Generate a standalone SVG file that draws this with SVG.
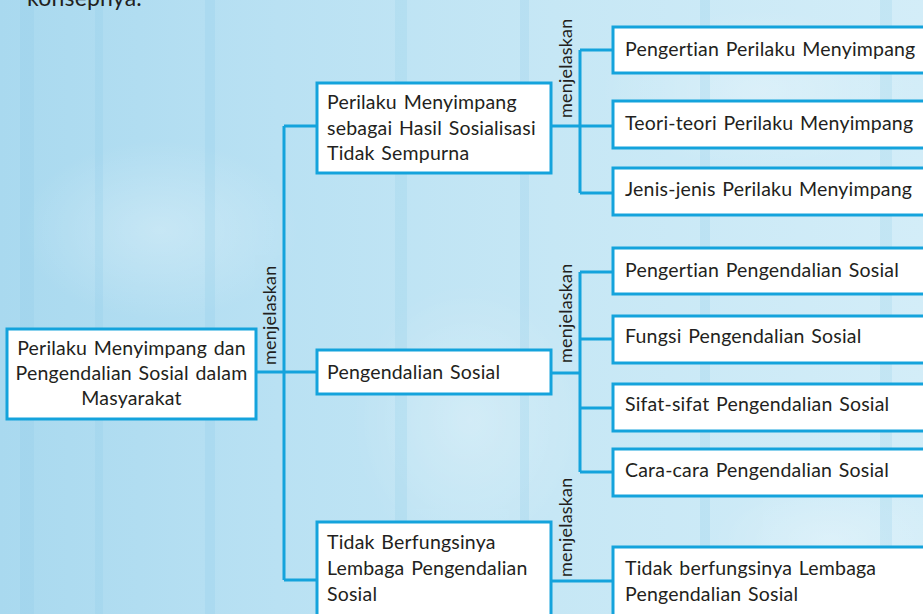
<svg xmlns="http://www.w3.org/2000/svg" width="923" height="614" viewBox="0 0 923 614">
<defs>
<linearGradient id="bg" x1="0" y1="0" x2="1" y2="0">
<stop offset="0" stop-color="#a9d9ef"/>
<stop offset="0.3" stop-color="#b9e1f3"/>
<stop offset="0.6" stop-color="#c6e7f5"/>
<stop offset="1" stop-color="#d3edf8"/>
</linearGradient>
<radialGradient id="rg" cx="0.5" cy="0.5" r="0.5">
<stop offset="0" stop-color="#ffffff" stop-opacity="0.45"/>
<stop offset="1" stop-color="#ffffff" stop-opacity="0"/>
</radialGradient>
<style>
.box{fill:#ffffff;stroke:#14a3dc;stroke-width:3}
.ln{fill:none;stroke:#14a3dc;stroke-width:3}
.t{font-family:Lato,"Open Sans","Liberation Sans",sans-serif;font-size:19.5px;fill:#231f20;letter-spacing:0.2px;word-spacing:1.5px}
.lab{font-family:Lato,"Open Sans","Liberation Sans",sans-serif;font-size:18px;fill:#231f20;letter-spacing:0.2px}
</style>
</defs>
<rect width="923" height="614" fill="url(#bg)"/>
<g opacity="0.6">
<ellipse cx="160" cy="230" rx="140" ry="90" fill="url(#rg)"/>
<ellipse cx="470" cy="420" rx="120" ry="140" fill="url(#rg)"/>
<ellipse cx="760" cy="90" rx="160" ry="80" fill="url(#rg)"/>
<ellipse cx="830" cy="540" rx="120" ry="60" fill="url(#rg)"/>
</g>
<g fill="#8ccbea" opacity="0.22">
<rect x="20" y="0" width="14" height="614"/>
<rect x="95" y="0" width="8" height="614"/>
<rect x="205" y="0" width="10" height="614"/>
<rect x="395" y="0" width="12" height="614"/>
<rect x="520" y="0" width="9" height="614"/>
<rect x="700" y="0" width="10" height="614"/>
<rect x="880" y="0" width="12" height="614"/>
</g>
<text class="t" x="27" y="6" style="font-size:23px">konsepnya.</text>

<g id="connectors">
<path class="ln" d="M256 372 H317 M284 126 V580 M284 126 H317 M284 580 H317"/>
<path class="ln" d="M551 126 H580 M580 50 V193 M580 50 H613 M580 126 H613 M580 193 H613"/>
<path class="ln" d="M551 373 H580 M580 272 V472 M580 272 H613 M580 339 H613 M580 408 H613 M580 472 H613"/>
<path class="ln" d="M551 581 H613"/>
<text class="lab" transform="translate(276 365) rotate(-90)">menjelaskan</text>
<text class="lab" transform="translate(572 118) rotate(-90)">menjelaskan</text>
<text class="lab" transform="translate(572 363) rotate(-90)">menjelaskan</text>
<text class="lab" transform="translate(572 577) rotate(-90)">menjelaskan</text>
</g>

<g id="root">
<rect class="box" x="7" y="329" width="249" height="90"/>
<text class="t" text-anchor="middle" x="131.5" y="355">Perilaku Menyimpang dan</text>
<text class="t" text-anchor="middle" x="131.5" y="380">Pengendalian Sosial dalam</text>
<text class="t" text-anchor="middle" x="131.5" y="405">Masyarakat</text>
</g>

<g id="nodeA">
<rect class="box" x="317" y="83" width="234" height="90"/>
<text class="t" x="327" y="109">Perilaku Menyimpang</text>
<text class="t" x="327" y="135">sebagai Hasil Sosialisasi</text>
<text class="t" x="327" y="160">Tidak Sempurna</text>
</g>

<g id="nodeB">
<rect class="box" x="317" y="350" width="234" height="44"/>
<text class="t" x="327" y="379">Pengendalian Sosial</text>
</g>

<g id="nodeC">
<rect class="box" x="317" y="522" width="234" height="100"/>
<text class="t" x="327" y="549">Tidak Berfungsinya</text>
<text class="t" x="327" y="575">Lembaga Pengendalian</text>
<text class="t" x="327" y="601">Sosial</text>
</g>

<g id="a1">
<rect class="box" x="613" y="27" width="320" height="46"/>
<text class="t" x="625" y="56">Pengertian Perilaku Menyimpang</text>
</g>
<g id="a2">
<rect class="box" x="613" y="101" width="320" height="47"/>
<text class="t" x="625" y="130">Teori-teori Perilaku Menyimpang</text>
</g>
<g id="a3">
<rect class="box" x="613" y="168" width="320" height="47"/>
<text class="t" x="625" y="196">Jenis-jenis Perilaku Menyimpang</text>
</g>

<g id="b1">
<rect class="box" x="613" y="248" width="320" height="46"/>
<text class="t" x="625" y="277">Pengertian Pengendalian Sosial</text>
</g>
<g id="b2">
<rect class="box" x="613" y="316" width="320" height="47"/>
<text class="t" x="625" y="343">Fungsi Pengendalian Sosial</text>
</g>
<g id="b3">
<rect class="box" x="613" y="384" width="320" height="47"/>
<text class="t" x="625" y="411">Sifat-sifat Pengendalian Sosial</text>
</g>
<g id="b4">
<rect class="box" x="613" y="449" width="320" height="47"/>
<text class="t" x="625" y="477">Cara-cara Pengendalian Sosial</text>
</g>

<g id="d1">
<rect class="box" x="613" y="547" width="320" height="75"/>
<text class="t" x="625" y="575">Tidak berfungsinya Lembaga</text>
<text class="t" x="625" y="601">Pengendalian Sosial</text>
</g>
</svg>
